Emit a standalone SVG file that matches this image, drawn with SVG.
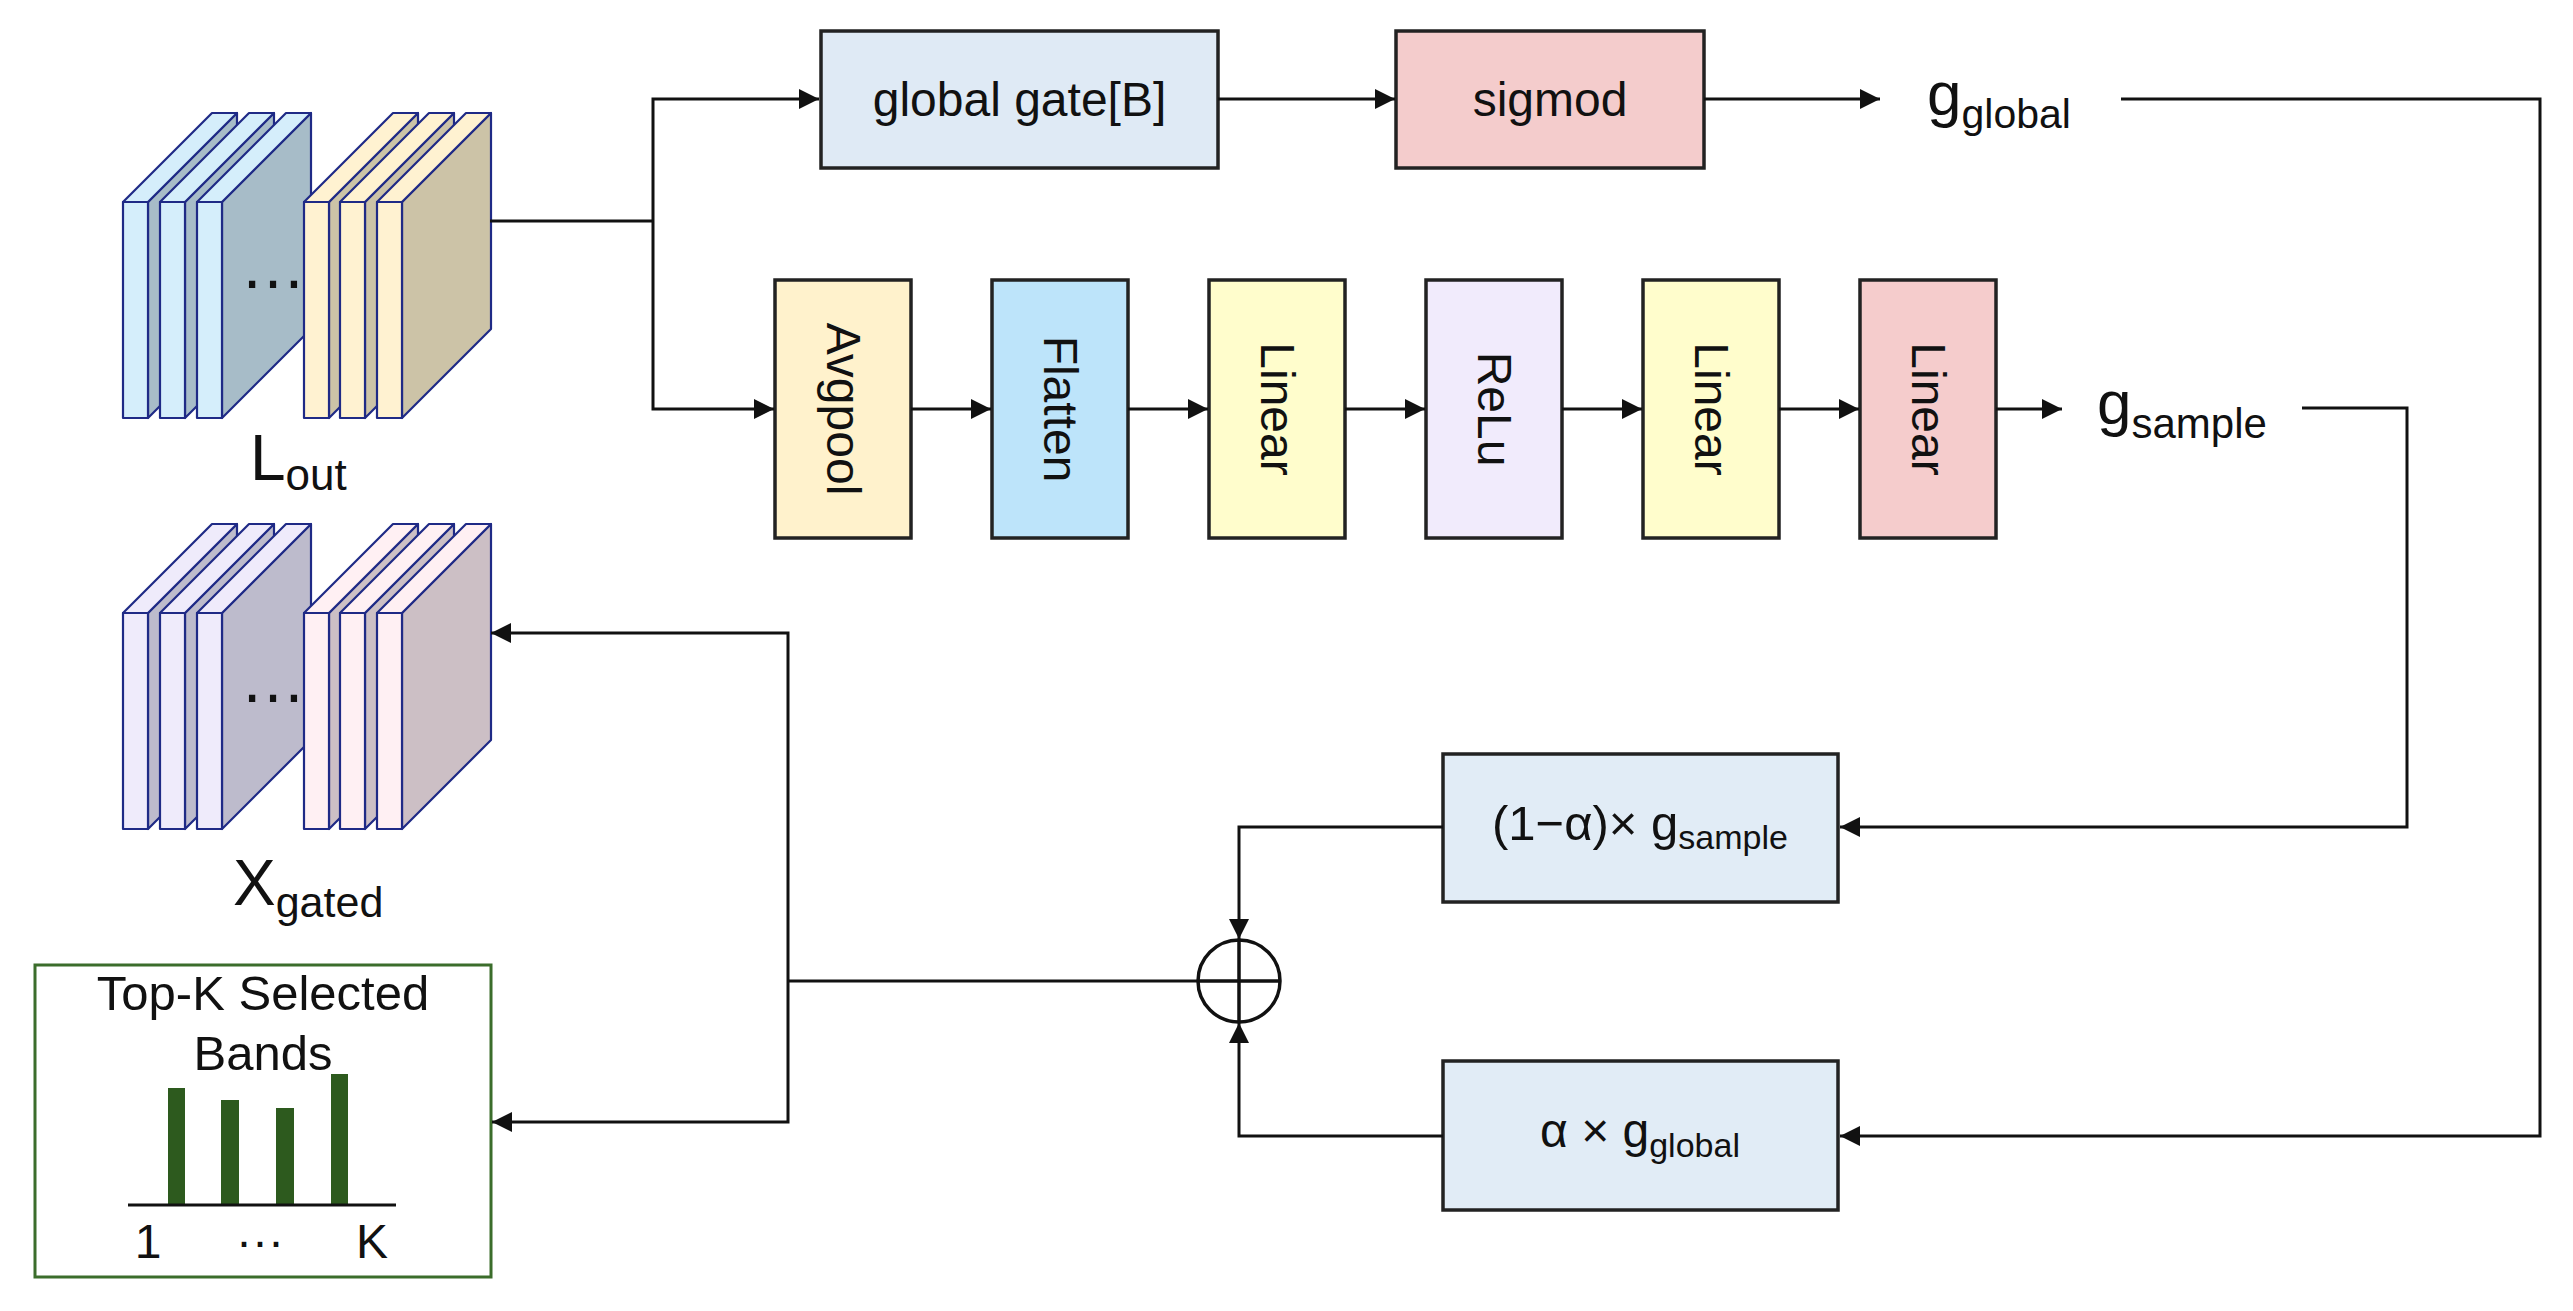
<svg xmlns="http://www.w3.org/2000/svg" width="2573" height="1311" viewBox="0 0 2573 1311">
<defs>
<style>
text{font-family:"Liberation Sans",Arial,sans-serif;fill:#111}
.box{stroke:#222;stroke-width:3.5}
.ln{fill:none;stroke:#111;stroke-width:3}
.sl{stroke:#1f2a86;stroke-width:2.2;stroke-linejoin:round}
.lbl{font-size:48px}
</style>
<marker id="arr" viewBox="0 0 20 20" refX="20" refY="10" markerWidth="20" markerHeight="20" markerUnits="userSpaceOnUse" orient="auto">
<path d="M0,0 L20,10 L0,20 Z" fill="#111"/>
</marker>
</defs>
<rect width="2573" height="1311" fill="#fff"/>

<g id="L_out">
<g class="sl" fill="#d5eefb">
<g transform="translate(123,202)"><path d="M25,0 L114,-89 L114,127 L25,216 Z" fill="#a7bcc8"/><path d="M0,0 L89,-89 L114,-89 L25,0 Z"/><rect width="25" height="216"/></g>
<g transform="translate(160,202)"><path d="M25,0 L114,-89 L114,127 L25,216 Z" fill="#a7bcc8"/><path d="M0,0 L89,-89 L114,-89 L25,0 Z"/><rect width="25" height="216"/></g>
<g transform="translate(197,202)"><path d="M25,0 L114,-89 L114,127 L25,216 Z" fill="#a7bcc8"/><path d="M0,0 L89,-89 L114,-89 L25,0 Z"/><rect width="25" height="216"/></g>
</g>
<text x="273" y="288" font-size="66" text-anchor="middle">…</text>
<g class="sl" fill="#fff2d1">
<g transform="translate(304,202)"><path d="M25,0 L114,-89 L114,127 L25,216 Z" fill="#ccc3a7"/><path d="M0,0 L89,-89 L114,-89 L25,0 Z"/><rect width="25" height="216"/></g>
<g transform="translate(340,202)"><path d="M25,0 L114,-89 L114,127 L25,216 Z" fill="#ccc3a7"/><path d="M0,0 L89,-89 L114,-89 L25,0 Z"/><rect width="25" height="216"/></g>
<g transform="translate(377,202)"><path d="M25,0 L114,-89 L114,127 L25,216 Z" fill="#ccc3a7"/><path d="M0,0 L89,-89 L114,-89 L25,0 Z"/><rect width="25" height="216"/></g>
</g>
<text x="250" y="480" font-size="64">L<tspan font-size="44" dy="10">out</tspan></text>
</g>

<g id="X_gated">
<g class="sl" fill="#efebfb">
<g transform="translate(123,613)"><path d="M25,0 L114,-89 L114,127 L25,216 Z" fill="#bdbbcc"/><path d="M0,0 L89,-89 L114,-89 L25,0 Z"/><rect width="25" height="216"/></g>
<g transform="translate(160,613)"><path d="M25,0 L114,-89 L114,127 L25,216 Z" fill="#bdbbcc"/><path d="M0,0 L89,-89 L114,-89 L25,0 Z"/><rect width="25" height="216"/></g>
<g transform="translate(197,613)"><path d="M25,0 L114,-89 L114,127 L25,216 Z" fill="#bdbbcc"/><path d="M0,0 L89,-89 L114,-89 L25,0 Z"/><rect width="25" height="216"/></g>
</g>
<text x="273" y="702" font-size="66" text-anchor="middle">…</text>
<g class="sl" fill="#fff0f3">
<g transform="translate(304,613)"><path d="M25,0 L114,-89 L114,127 L25,216 Z" fill="#ccbfc5"/><path d="M0,0 L89,-89 L114,-89 L25,0 Z"/><rect width="25" height="216"/></g>
<g transform="translate(340,613)"><path d="M25,0 L114,-89 L114,127 L25,216 Z" fill="#ccbfc5"/><path d="M0,0 L89,-89 L114,-89 L25,0 Z"/><rect width="25" height="216"/></g>
<g transform="translate(377,613)"><path d="M25,0 L114,-89 L114,127 L25,216 Z" fill="#ccbfc5"/><path d="M0,0 L89,-89 L114,-89 L25,0 Z"/><rect width="25" height="216"/></g>
</g>
<text x="233" y="905" font-size="64">X<tspan font-size="43" dy="12">gated</tspan></text>
</g>

<g id="topk">
<rect x="35" y="965" width="456" height="312" fill="#fff" stroke="#3b6d2b" stroke-width="3"/>
<text x="263" y="1010" font-size="49" text-anchor="middle">Top-K Selected</text>
<text x="263" y="1070" font-size="49" text-anchor="middle">Bands</text>
<g fill="#2d5a1e">
<rect x="168" y="1088" width="17" height="116"/>
<rect x="221" y="1100" width="18" height="104"/>
<rect x="276" y="1108" width="18" height="96"/>
<rect x="331" y="1074" width="17" height="130"/>
</g>
<path d="M128,1205 H396" stroke="#111" stroke-width="3"/>
<text x="148" y="1258" font-size="48" text-anchor="middle">1</text>
<text x="260" y="1258" font-size="48" text-anchor="middle">···</text>
<text x="372" y="1258" font-size="48" text-anchor="middle">K</text>
</g>

<g id="global_gate"><rect class="box" x="821" y="31" width="397" height="137" fill="#dfeaf5"/><text class="lbl" x="1019.5" y="116" text-anchor="middle">global gate[B]</text></g>
<g id="sigmod"><rect class="box" x="1396" y="31" width="308" height="137" fill="#f4cccc"/><text class="lbl" x="1550" y="116" text-anchor="middle">sigmod</text></g>
<g id="g_global_lbl"><text x="1927" y="115" font-size="62">g<tspan font-size="41" dy="13">global</tspan></text></g>

<g id="avgpool"><rect class="box" x="775" y="280" width="136" height="258" fill="#fff2cc"/><text class="lbl" x="843" y="409" text-anchor="middle" dominant-baseline="central" transform="rotate(90 843 409)">Avgpool</text></g>
<g id="flatten"><rect class="box" x="992" y="280" width="136" height="258" fill="#bde4fa"/><text class="lbl" x="1060" y="409" text-anchor="middle" dominant-baseline="central" transform="rotate(90 1060 409)">Flatten</text></g>
<g id="linear1"><rect class="box" x="1209" y="280" width="136" height="258" fill="#fffdcc"/><text class="lbl" x="1277" y="409" text-anchor="middle" dominant-baseline="central" transform="rotate(90 1277 409)">Linear</text></g>
<g id="relu"><rect class="box" x="1426" y="280" width="136" height="258" fill="#f1ebfc"/><text class="lbl" x="1494" y="409" text-anchor="middle" dominant-baseline="central" transform="rotate(90 1494 409)">ReLu</text></g>
<g id="linear2"><rect class="box" x="1643" y="280" width="136" height="258" fill="#fffdcc"/><text class="lbl" x="1711" y="409" text-anchor="middle" dominant-baseline="central" transform="rotate(90 1711 409)">Linear</text></g>
<g id="linear3"><rect class="box" x="1860" y="280" width="136" height="258" fill="#f5cccc"/><text class="lbl" x="1928" y="409" text-anchor="middle" dominant-baseline="central" transform="rotate(90 1928 409)">Linear</text></g>
<g id="g_sample_lbl"><text x="2097" y="424" font-size="62">g<tspan font-size="42" dy="14">sample</tspan></text></g>

<g id="mix_sample"><rect class="box" x="1443" y="754" width="395" height="148" fill="#e1ecf6"/><text x="1640" y="840" font-size="49" text-anchor="middle">(1−α)× g<tspan font-size="34" dy="9">sample</tspan></text></g>
<g id="mix_global"><rect class="box" x="1443" y="1061" width="395" height="149" fill="#e1ecf6"/><text x="1640" y="1147" font-size="48" text-anchor="middle">α × g<tspan font-size="34" dy="10">global</tspan></text></g>

<g id="oplus" fill="none" stroke="#111" stroke-width="3.5">
<circle cx="1239" cy="981" r="41" fill="#fff"/>
<path d="M1239,940 V1022 M1198,981 H1280"/>
</g>

<g id="connectors" class="ln">
<path d="M490,221 H653"/>
<path d="M653,221 V99 H819" marker-end="url(#arr)"/>
<path d="M653,221 V409 H774" marker-end="url(#arr)"/>
<path d="M1218,99 H1395" marker-end="url(#arr)"/>
<path d="M1704,99 H1880" marker-end="url(#arr)"/>
<path d="M911,409 H991" marker-end="url(#arr)"/>
<path d="M1128,409 H1208" marker-end="url(#arr)"/>
<path d="M1345,409 H1425" marker-end="url(#arr)"/>
<path d="M1562,409 H1642" marker-end="url(#arr)"/>
<path d="M1779,409 H1859" marker-end="url(#arr)"/>
<path d="M1996,409 H2062" marker-end="url(#arr)"/>
<path d="M2121,99 H2540 V1136 H1840" marker-end="url(#arr)"/>
<path d="M2302,408 H2407 V827 H1840" marker-end="url(#arr)"/>
<path d="M1443,827 H1239 V939" marker-end="url(#arr)"/>
<path d="M1443,1136 H1239 V1023" marker-end="url(#arr)"/>
<path d="M1198,981 H788"/>
<path d="M788,981 V633 H491" marker-end="url(#arr)"/>
<path d="M788,981 V1122 H492" marker-end="url(#arr)"/>
</g>
</svg>
